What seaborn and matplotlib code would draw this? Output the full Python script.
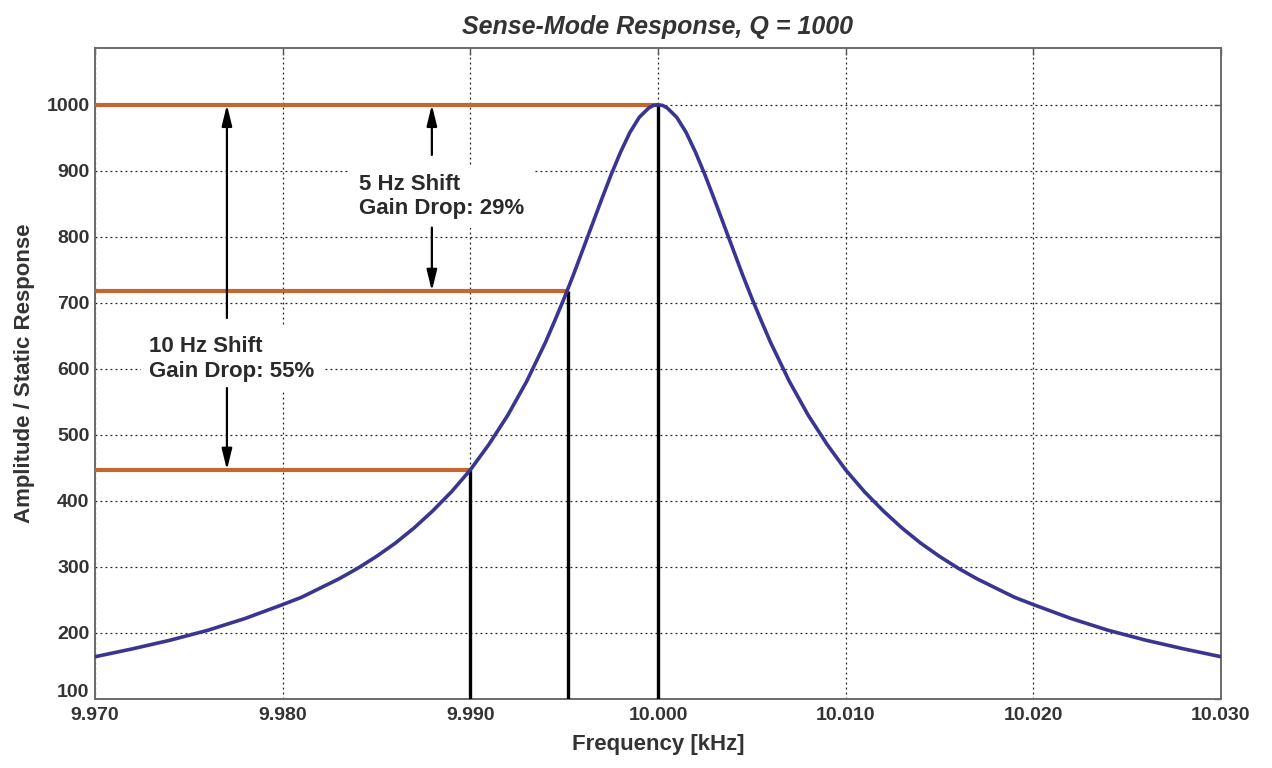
import matplotlib
matplotlib.use("Agg")
import matplotlib.pyplot as plt
import matplotlib.transforms as mtransforms
import seaborn as sns

# ---- data ----
freq_khz = [9.970, 9.972, 9.974, 9.976, 9.978, 9.980, 9.981, 9.982, 9.983, 9.984,
            9.985, 9.986, 9.987, 9.988, 9.989, 9.990, 9.991, 9.992, 9.993, 9.994,
            9.9945, 9.995, 9.9955, 9.996, 9.9965, 9.997, 9.9975, 9.998, 9.9985, 9.999,
            9.9995, 9.99975, 10.000, 10.00025,
            10.0005, 10.001, 10.0015, 10.002, 10.0025, 10.003, 10.0035, 10.004, 10.0045,
            10.005, 10.0055, 10.006, 10.007, 10.008, 10.009, 10.010, 10.011, 10.012,
            10.013, 10.014, 10.015, 10.016, 10.017, 10.018, 10.019, 10.020, 10.022,
            10.024, 10.026, 10.028, 10.030]
amplitude = [164, 176, 189, 204, 222, 243, 254, 268, 282, 298,
             316, 336, 359, 385, 414, 447, 486, 530, 581, 640,
             673, 707, 743, 781, 819, 857, 894, 928, 958, 981,
             995, 999, 1000, 999,
             995, 981, 958, 928, 894, 857, 819, 781, 743,
             707, 673, 640, 581, 530, 486, 447, 414, 385,
             359, 336, 316, 298, 282, 268, 254, 243, 222,
             204, 189, 176, 164]

# points on the curve marking the frequency shifts
mark_freq = [10.000, 9.9952, 9.990]
mark_amp = [1000, 718, 447]

x_ticks = [9.970, 9.980, 9.990, 10.000, 10.010, 10.020, 10.030]
x_ticklabels = ["9.970", "9.980", "9.990", "10.000", "10.010", "10.020", "10.030"]
y_ticks = [100, 200, 300, 400, 500, 600, 700, 800, 900, 1000]

title = "Sense-Mode Response, Q = 1000"
xlabel = "Frequency [kHz]"
ylabel = "Amplitude / Static Response"
label_5hz = "5 Hz Shift\nGain Drop: 29%"
label_10hz = "10 Hz Shift\nGain Drop: 55%"

# ---- styling ----
sns.set_style("white")
plt.rcParams['font.family'] = ['Liberation Sans', 'DejaVu Sans']

fig = plt.figure(figsize=(12.72, 7.68), dpi=100)
ax = fig.add_axes([95/1272, 1 - 699/768, (1221 - 95)/1272, (699 - 48)/768])

xmin, xmax = 9.970, 10.030
ymin, ymax = 100, 1086

ax.set_xlim(xmin, xmax)
ax.set_ylim(ymin, ymax)

# grid
ax.set_axisbelow(True)
ax.grid(True, color="#222222", linestyle=(0, (1.5, 2.5)), linewidth=0.9)

# horizontal orange reference lines
orange = "#C4662F"
for f, a in zip(mark_freq, mark_amp):
    ax.plot([xmin, f], [a, a], color=orange, lw=3.0, solid_capstyle="butt", zorder=3)
# vertical black lines
for f, a in zip(mark_freq, mark_amp):
    ax.plot([f, f], [ymin, a], color="black", lw=2.4, solid_capstyle="butt", zorder=3)

# response curve
sns.lineplot(x=freq_khz, y=amplitude, ax=ax, color="#3A3592", lw=2.6,
             estimator=None, sort=True, zorder=4)

# annotations
txt_kw = dict(fontsize=16, fontweight="bold", color="#2a2a2a", ha="left", va="center",
              linespacing=1.2,
              bbox=dict(boxstyle="square,pad=0.4", facecolor="white", edgecolor="none"),
              zorder=5)
ax.text(9.98405, 861, label_5hz, **txt_kw)
ax.text(9.97290, 615, label_10hz, **txt_kw)

arr = dict(arrowstyle="-|>,head_width=0.22,head_length=0.9", color="black", lw=1.6,
           shrinkA=0, shrinkB=0, mutation_scale=14)
ax.annotate("", xy=(9.97703, 1000), xytext=(9.97703, 677), arrowprops=arr, zorder=5)
ax.annotate("", xy=(9.97703, 447), xytext=(9.97703, 571), arrowprops=arr, zorder=5)
ax.annotate("", xy=(9.98795, 1000), xytext=(9.98795, 924), arrowprops=arr, zorder=5)
ax.annotate("", xy=(9.98795, 718), xytext=(9.98795, 814), arrowprops=arr, zorder=5)

# ticks
ax.set_xticks(x_ticks)
ax.set_xticklabels(x_ticklabels)
ax.set_yticks(y_ticks)
ax.tick_params(axis="both", direction="in", length=5, width=1.0, color="#555555",
               top=True, right=True, labelsize=14, labelcolor="#333333")
ax.tick_params(axis="x", pad=6)
ax.tick_params(axis="y", pad=4)
for lab in ax.get_xticklabels() + ax.get_yticklabels():
    lab.set_fontweight("bold")

# lift the lowest y label slightly so it sits just above the first x label
ylabs = ax.get_yticklabels()
offset = mtransforms.ScaledTranslation(0, 6 / 72, fig.dpi_scale_trans)
ylabs[0].set_transform(ylabs[0].get_transform() + offset)

for s in ax.spines.values():
    s.set_color("#6a6a6a")
    s.set_linewidth(1.4)
    s.set_visible(True)

ax.set_title(title, fontsize=18, fontweight="bold", fontstyle="italic", color="#333333", pad=10)
ax.set_xlabel(xlabel, fontsize=16, fontweight="bold", color="#333333", labelpad=7)
ax.set_ylabel(ylabel, fontsize=16, fontweight="bold", color="#333333", labelpad=8)

fig.savefig("out.png", dpi=100)
